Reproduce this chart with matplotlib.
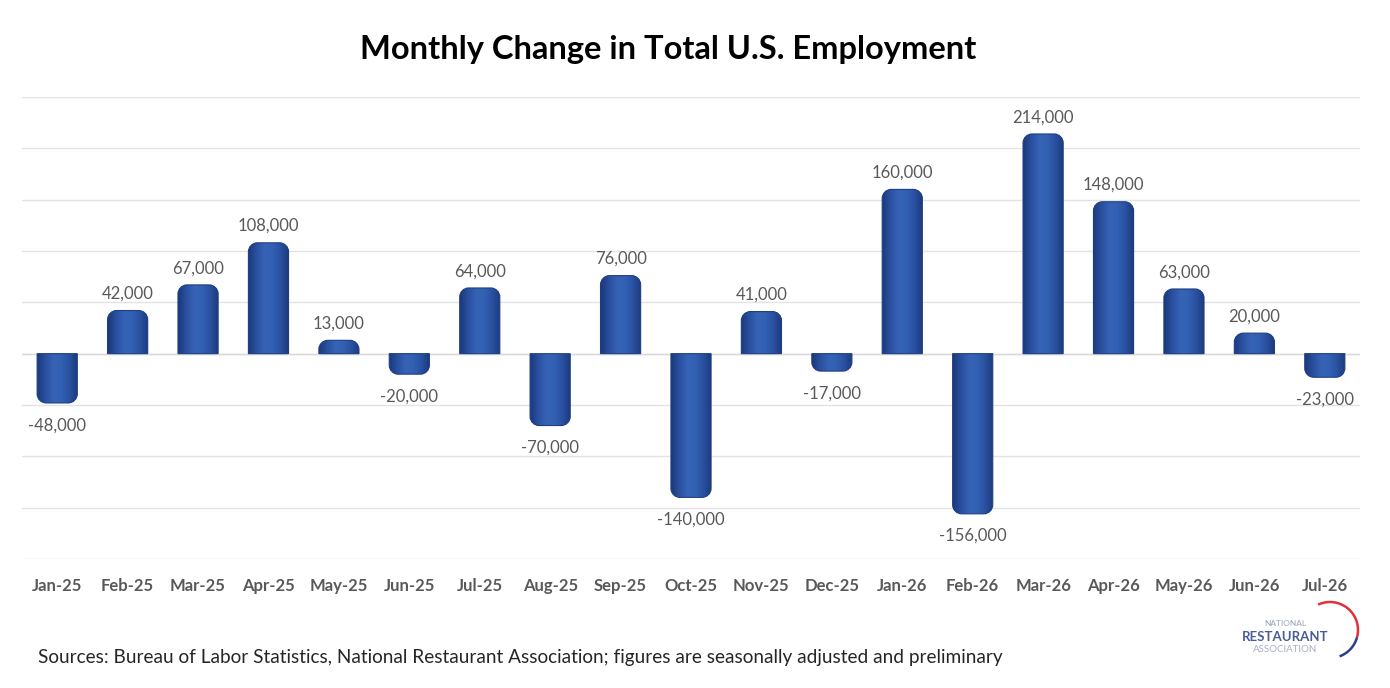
import matplotlib
matplotlib.use("Agg")
import matplotlib.pyplot as plt
import numpy as np
from matplotlib.path import Path
from matplotlib.patches import PathPatch, Arc
from matplotlib.colors import LinearSegmentedColormap

months = ["Jan-25", "Feb-25", "Mar-25", "Apr-25", "May-25", "Jun-25", "Jul-25",
          "Aug-25", "Sep-25", "Oct-25", "Nov-25", "Dec-25", "Jan-26", "Feb-26",
          "Mar-26", "Apr-26", "May-26", "Jun-26", "Jul-26"]
changes = [-48000, 42000, 67000, 108000, 13000, -20000, 64000, -70000, 76000,
           -140000, 41000, -17000, 160000, -156000, 214000, 148000, 63000, 20000, -23000]

title = "Monthly Change in Total U.S. Employment"
source = ("Sources: Bureau of Labor Statistics, National Restaurant Association; "
          "figures are seasonally adjusted and preliminary")

FONT = ["Lato", "DejaVu Sans"]
plt.rcParams["font.family"] = FONT

fig = plt.figure(figsize=(13.9, 6.88), dpi=100)
ax = fig.add_axes([22/1390, 1-559/688, (1360-22)/1390, (559-97)/688])

x = np.arange(len(months))
bars = ax.bar(x, changes, width=0.57, color="#2E56A6", zorder=2)
ax.set_xlim(-0.5, len(months) - 0.5)
ax.set_ylim(-200000, 250000)
ax.set_yticks(np.arange(-200000, 250001, 50000))
ax.yaxis.grid(True, color="#E3E3E3", linewidth=1.0, zorder=0)
ax.set_axisbelow(True)
for s in ax.spines.values():
    s.set_visible(False)
ax.tick_params(axis="y", left=False, labelleft=False)
ax.tick_params(axis="x", bottom=False, pad=10)
ax.set_xticks(x)
ax.set_xticklabels(months, fontsize=12, color="#595959", fontweight="bold")
ax.axhline(0, color="#D9D9D9", linewidth=1.0, zorder=1)

fig.canvas.draw()
# rounded far-end bars with cylinder shading
px_to_dx = (ax.get_xlim()[1] - ax.get_xlim()[0]) / ax.bbox.width
px_to_dy = (ax.get_ylim()[1] - ax.get_ylim()[0]) / ax.bbox.height
cmap = LinearSegmentedColormap.from_list(
    "cyl", ["#1C3A7C", "#2A50A0", "#3663B6", "#3261B3", "#2A50A0", "#1C3A7C"])
grad = np.linspace(0, 1, 64).reshape(1, -1)
for b in bars:
    x0 = b.get_x(); w = b.get_width(); h = b.get_height()
    x1 = x0 + w
    r_px = 9
    rx = r_px * px_to_dx
    ry = min(r_px * px_to_dy, abs(h))
    sgn = 1 if h >= 0 else -1
    top = h
    k = 0.5523
    verts = [(x0, 0), (x0, top - sgn*ry),
             (x0, top - sgn*ry + sgn*k*ry), (x0 + rx - k*rx, top), (x0 + rx, top),
             (x1 - rx, top),
             (x1 - rx + k*rx, top), (x1, top - sgn*ry + sgn*k*ry), (x1, top - sgn*ry),
             (x1, 0), (x0, 0)]
    codes = [Path.MOVETO, Path.LINETO,
             Path.CURVE4, Path.CURVE4, Path.CURVE4,
             Path.LINETO,
             Path.CURVE4, Path.CURVE4, Path.CURVE4,
             Path.LINETO, Path.CLOSEPOLY]
    patch = PathPatch(Path(verts, codes), facecolor="none", edgecolor="#1E3E82",
                      linewidth=0.8, zorder=4)
    ax.add_patch(patch)
    im = ax.imshow(grad, cmap=cmap, aspect="auto", extent=(x0, x1, min(0, h), max(0, h)),
                   zorder=3, interpolation="bilinear")
    im.set_clip_path(patch)
    b.set_visible(False)
    # label
    off = 12 if h >= 0 else -16
    ax.annotate(f"{int(h):,}", (b.get_x() + w/2, h), xytext=(0, off),
                textcoords="offset points", ha="center", va="center",
                fontsize=12, color="#595959", zorder=5)

ax.set_xlim(-0.5, len(months) - 0.5)
ax.set_ylim(-200000, 250000)

fig.text(668/1390, 1-49/688, title, ha="center", va="center",
         fontsize=23.5, fontweight="bold", color="#000000")
fig.text(38/1390, 1-657/688, source, ha="left", va="center",
         fontsize=13.7, color="#262626")

# logo
fig.text(1285/1390, 1-624/688, "NATIONAL", ha="center", va="center",
         fontsize=6, color="#9AA3BF")
fig.text(1285/1390, 1-637/688, "RESTAURANT", ha="center", va="center",
         fontsize=9.5, fontweight="bold", color="#4B5C94")
fig.text(1285/1390, 1-650/688, "ASSOCIATION", ha="center", va="center",
         fontsize=7, color="#A7AFC8")
lax = fig.add_axes([1240/1390, 1-668/688, 125/1390, 70/688])
lax.set_xlim(0, 125); lax.set_ylim(0, 70); lax.axis("off")
lax.add_patch(Arc((90, 38), 56, 56, theta1=-15, theta2=115, color="#E0303A", linewidth=1.8))
lax.add_patch(Arc((90, 38), 56, 56, theta1=-70, theta2=-15, color="#2B3F8C", linewidth=1.8))

fig.savefig("out.png", dpi=100, facecolor="white")
